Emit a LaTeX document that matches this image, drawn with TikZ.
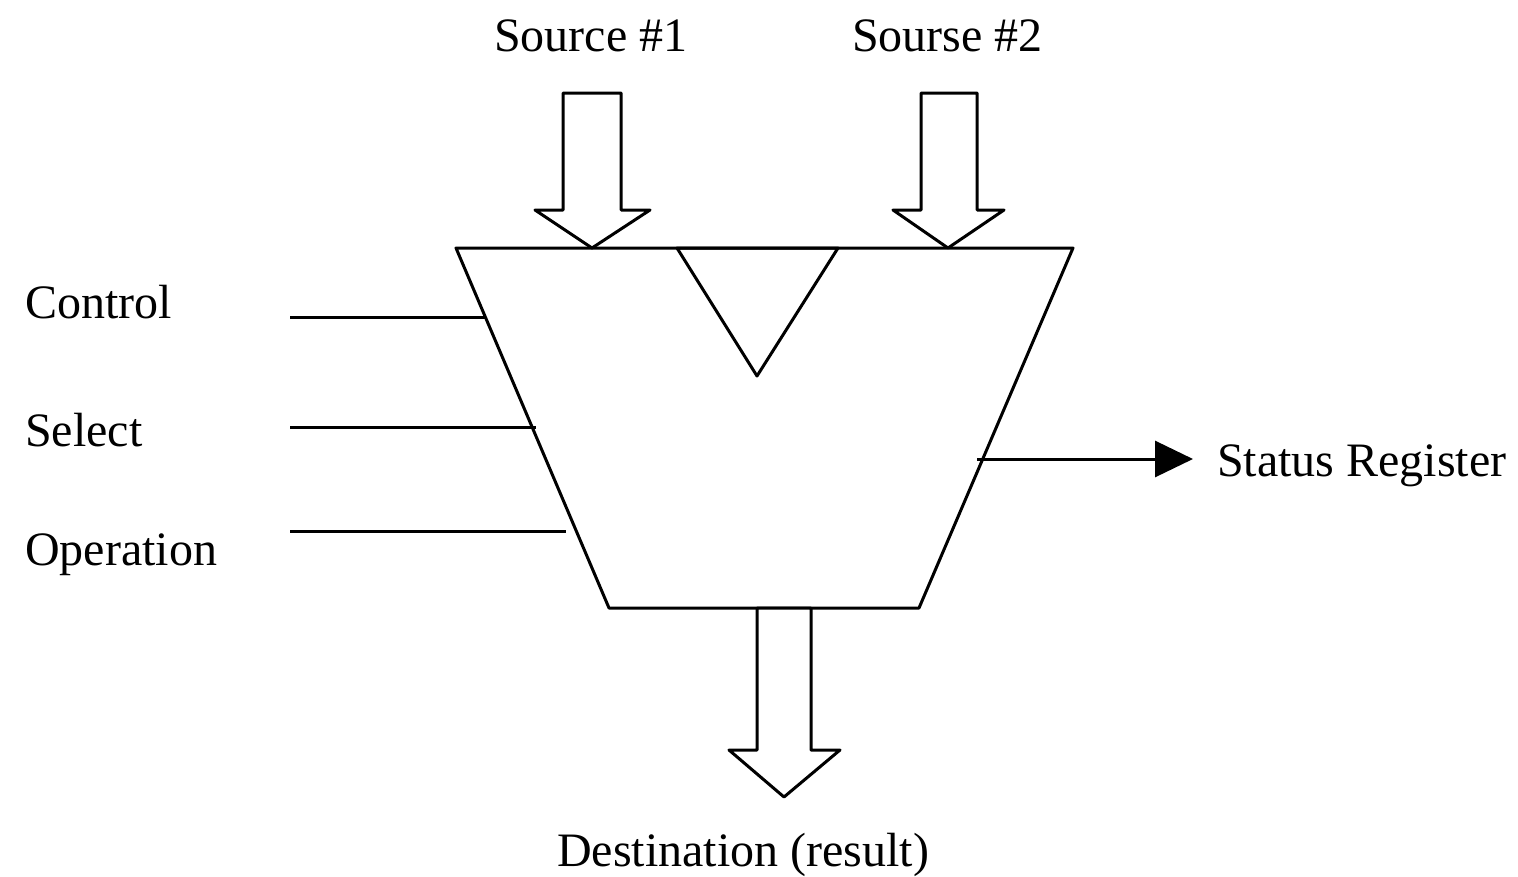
\documentclass[tikz,border=0pt]{standalone}
\usepackage{fontspec}
\setmainfont{Liberation Serif}
\usetikzlibrary{arrows.meta}
\begin{document}
\begin{tikzpicture}[x=1pt,y=-1pt,
  shape line/.style={line width=3pt,line join=round},
  wire/.style={line width=3pt},
  lbl/.style={anchor=base west,inner sep=0pt,font=\fontsize{48}{58}\selectfont}]
\useasboundingbox (0,0) rectangle (1518,876);
% ALU body
\coordinate (tl) at (456,248);
\coordinate (tr) at (1073,248);
\coordinate (br) at (919,608);
\coordinate (bl) at (609,608);
\draw[shape line] (tl) -- (tr) -- (br) -- (bl) -- cycle;
% inner triangle
\draw[shape line] (677,248) -- (838,248) -- (757,376) -- cycle;
% Source arrows
\draw[shape line,fill=white] (563,93) -- (621,93) -- (621,210) -- (650,210) -- (592,248) -- (535,210) -- (563,210) -- cycle;
\draw[shape line,fill=white] (921,93) -- (977,93) -- (977,210) -- (1004,210) -- (948,248) -- (893,210) -- (921,210) -- cycle;
% Destination arrow
\draw[shape line,fill=white] (757,608) -- (811,608) -- (811,750) -- (840,750) -- (784,797) -- (729,750) -- (757,750) -- cycle;
% labels
\node[lbl] (src1) at (494,51) {Source \#1};
\node[lbl] (src2) at (852,51) {Sourse \#2};
\node[lbl] (ctrl) at (25,318) {Control};
\node[lbl] (sel) at (25,446) {Select};
\node[lbl] (op) at (25,565) {Operation};
\node[lbl] (stat) at (1217,476) {Status Register};
\node[lbl] (dest) at (557,866) {Destination (result)};
% control wires
\coordinate (c0) at (290,317); \coordinate (c1) at (485,317);
\coordinate (s0) at (290,427); \coordinate (s1) at (536,427);
\coordinate (o0) at (290,531); \coordinate (o1) at (566,531);
\draw[wire] (c0) -- (c1);
\draw[wire] (s0) -- (s1);
\draw[wire] (o0) -- (o1);
% status output
\coordinate (st0) at (977,459); \coordinate (st1) at (1193,459);
\draw[wire,-{Triangle[length=38pt,width=36pt]}] (st0) -- (st1);
\end{tikzpicture}
\end{document}
